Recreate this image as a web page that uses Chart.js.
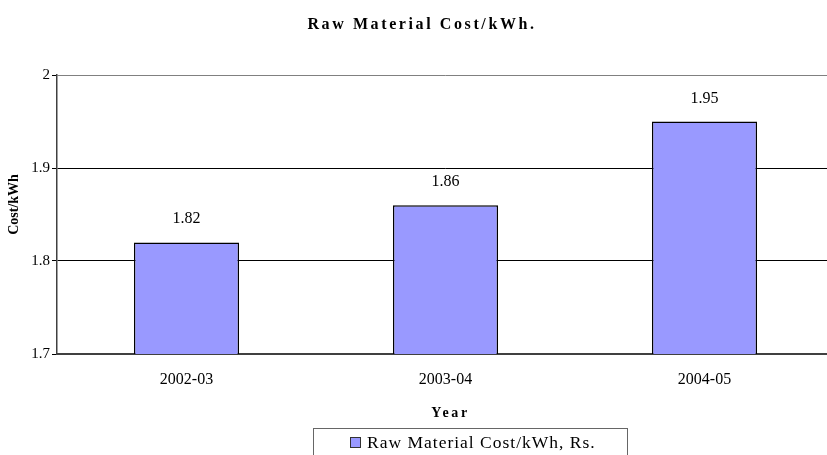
<!DOCTYPE html>
<html><head><meta charset="utf-8">
<script src="https://cdn.jsdelivr.net/npm/chart.js@4.4.0/dist/chart.umd.min.js"></script>
<style>
html,body{margin:0;padding:0;background:#fff;overflow:hidden;width:827px;height:455px}
#wrap{position:absolute;left:0;top:0;width:836px;height:455px}
canvas{display:block}
</style></head>
<body><div id="wrap"><canvas id="c" width="836" height="455"></canvas></div>
<script>
const categories = ['2002-03', '2003-04', '2004-05'];
const costValues = [1.82, 1.86, 1.95];
const yTicks = [1.7, 1.8, 1.9, 2.0];
const seriesLabel = 'Raw Material Cost/kWh, Rs.';
const chartTitle = 'Raw Material Cost/kWh.';
const xTitle = 'Year';
const yTitle = 'Cost/kWh';

const SERIF = '"Liberation Serif","Times New Roman",Times,serif';
const BAR_FILL = '#9999FF';

function wrapDraw(obj, key, fn) {
  if (!obj || obj['_w_' + key]) return;
  const orig = obj[key].bind(obj);
  obj[key] = function (...a) { fn(() => orig(...a)); };
  obj['_w_' + key] = true;
}

const tweaks = {
  id: 'tweaks',
  afterLayout(chart) {
    const ctx = chart.ctx;
    wrapDraw(chart.titleBlock, 'draw', (go) => {
      ctx.save(); ctx.letterSpacing = '2.6px'; ctx.translate(5, 1); go(); ctx.restore();
    });
    wrapDraw(chart.scales.x, 'drawTitle', (go) => {
      ctx.save(); ctx.letterSpacing = '2.6px'; ctx.translate(5, 0); go(); ctx.restore();
    });
    wrapDraw(chart.scales.y, 'drawTitle', (go) => {
      ctx.save(); ctx.translate(0, -10); go(); ctx.restore();
    });
  },
  afterDatasetsDraw(chart) {
    const ctx = chart.ctx;
    const meta = chart.getDatasetMeta(0);
    ctx.save();
    ctx.fillStyle = '#000';
    ctx.font = '16px ' + SERIF;
    ctx.textAlign = 'center';
    ctx.textBaseline = 'alphabetic';
    meta.data.forEach((bar, i) => {
      const v = chart.data.datasets[0].data[i];
      ctx.fillText(v.toFixed(2), bar.x, bar.y - 19);
    });
    ctx.restore();
  },
  afterDraw(chart) {
    const ctx = chart.ctx;
    const ds = chart.data.datasets[0];
    ctx.save();
    ctx.strokeStyle = '#666';
    ctx.lineWidth = 1;
    ctx.strokeRect(313.5, 428.5, 314, 40);
    ctx.fillStyle = ds.backgroundColor;
    ctx.fillRect(350.5, 437.5, 10, 10);
    ctx.strokeStyle = '#333';
    ctx.strokeRect(350.5, 437.5, 10, 10);
    ctx.fillStyle = '#000';
    ctx.font = '17.5px ' + SERIF;
    ctx.letterSpacing = '1px';
    ctx.textAlign = 'left';
    ctx.textBaseline = 'alphabetic';
    ctx.fillText(ds.label, 367, 448);
    ctx.restore();
  }
};

new Chart(document.getElementById('c'), {
  type: 'bar',
  data: {
    labels: categories,
    datasets: [{
      label: seriesLabel,
      data: costValues,
      backgroundColor: BAR_FILL,
      borderColor: '#000',
      borderWidth: 1.5,
      borderSkipped: false,
      categoryPercentage: 1,
      barPercentage: 0.406
    }]
  },
  options: {
    responsive: false,
    animation: false,
    devicePixelRatio: 1,
    layout: { padding: { left: 0, right: 2, top: 0, bottom: 0 } },
    plugins: {
      legend: { display: false },
      tooltip: { enabled: false },
      title: {
        display: true,
        text: chartTitle,
        color: '#000',
        font: { family: SERIF, size: 16, weight: 'bold', lineHeight: 1.2 },
        padding: { top: 14, bottom: 41.8 }
      }
    },
    scales: {
      x: {
        grid: { display: false, drawTicks: false },
        border: { display: true, color: '#404040', width: 2 },
        ticks: { color: '#000', font: { family: SERIF, size: 16 }, padding: 16, maxRotation: 0 },
        title: {
          display: true, text: xTitle, color: '#000',
          font: { family: SERIF, size: 14, weight: 'bold', lineHeight: 1.2 },
          padding: { top: 0, bottom: 33 }
        },
        afterFit(s) { s.height = 101; }
      },
      y: {
        min: 1.7,
        max: 2.0,
        afterBuildTicks(s) { s.ticks = yTicks.map(v => ({ value: v })); },
        grid: {
          color: (c) => (c.tick && Math.abs(c.tick.value - 2) < 1e-9) ? '#808080' : '#000',
          lineWidth: 1,
          drawTicks: true,
          tickLength: 5,
          tickColor: '#000'
        },
        border: { display: true, color: '#404040', width: 1.5 },
        ticks: {
          color: '#000',
          font: { family: SERIF, size: 15 },
          padding: 2,
          callback: (v) => String(Number(Number(v).toFixed(1)))
        },
        title: {
          display: true, text: yTitle, color: '#000',
          font: { family: SERIF, size: 14, weight: 'bold', lineHeight: 1.2 },
          padding: { top: 6, bottom: 0 }
        },
        afterFit(s) { s.width = 57; }
      }
    }
  },
  plugins: [tweaks]
});
</script>
</body></html>
